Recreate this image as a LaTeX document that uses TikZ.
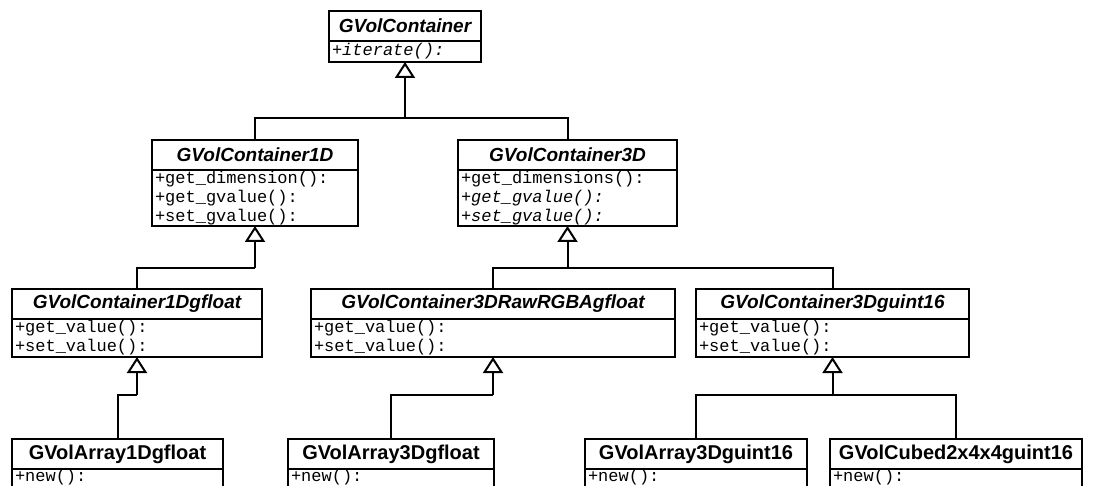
\documentclass[tikz,border=0pt]{standalone}
\usepackage{fontspec}
\setsansfont{Liberation Sans}
\setmonofont{Liberation Mono}
\usetikzlibrary{arrows.meta,positioning}

\begin{document}
\begin{tikzpicture}[x=0.5pt, y=-0.5pt,
cls/.style={draw, line width=1pt, minimum width=#1, minimum height=15pt,
inner sep=0pt, outer sep=0pt, anchor=north,
font=\sffamily\bfseries\itshape\fontsize{9.5}{11}\selectfont},
leaf/.style={cls=#1, font=\sffamily\bfseries\fontsize{10}{12}\selectfont},
ops/.style={draw, line width=0.8pt, text width=#1-3pt, inner xsep=1.5pt, inner ysep=0pt,
outer sep=0pt, align=left, font=\ttfamily\fontsize{8.5}{9.4}\selectfont},
wire/.style={line width=1pt},
isa/.style={line width=1pt, -{Triangle[open, length=8pt, width=10pt]}}
]
\useasboundingbox (0,0) rectangle (1108,486);
\clip (0,0) rectangle (1108,486);

% root
\node[cls=76pt] (gvc) at (405,11) {GVolContainer};
\node[ops=76pt, minimum height=10.5pt, below=0pt of gvc] (gvc-ops) {\itshape +iterate():};

% 1D / 3D interfaces
\node[cls=103pt] (gvc1d) at (255,140) {GVolContainer1D};
\node[ops=103pt, minimum height=28pt, below=0pt of gvc1d] (gvc1d-ops)
{+get\_dimension():\\+get\_gvalue():\\+set\_gvalue():};

\node[cls=109.5pt] (gvc3d) at (567.5,140) {GVolContainer3D};
\node[ops=109.5pt, minimum height=28pt, below=0pt of gvc3d] (gvc3d-ops)
{+get\_dimensions():\\\itshape +get\_gvalue():\\\itshape +set\_gvalue():};

% typed containers
\node[cls=125pt] (gvc1dgf) at (137,289) {GVolContainer1Dgfloat};
\node[ops=125pt, minimum height=19pt, below=0pt of gvc1dgf] (gvc1dgf-ops)
{+get\_value():\\+set\_value():};

\node[cls=182pt] (gvc3draw) at (493,289) {GVolContainer3DRawRGBAgfloat};
\node[ops=182pt, minimum height=19pt, below=0pt of gvc3draw] (gvc3draw-ops)
{+get\_value():\\+set\_value():};

\node[cls=136.5pt] (gvc3dui) at (832.5,289) {GVolContainer3Dguint16};
\node[ops=136.5pt, minimum height=19pt, below=0pt of gvc3dui] (gvc3dui-ops)
{+get\_value():\\+set\_value():};

% concrete classes (cut off by the page edge)
\node[leaf=105.5pt] (gva1dgf) at (117.5,439) {GVolArray1Dgfloat};
\node[ops=105.5pt, text depth=8pt, below=0pt of gva1dgf] (gva1dgf-ops) {+new():};

\node[leaf=103pt] (gva3dgf) at (391,439) {GVolArray3Dgfloat};
\node[ops=103pt, text depth=8pt, below=0pt of gva3dgf] (gva3dgf-ops) {+new():};

\node[leaf=111pt] (gva3dui) at (696,439) {GVolArray3Dguint16};
\node[ops=111pt, text depth=8pt, below=0pt of gva3dui] (gva3dui-ops) {+new():};

\node[leaf=126pt] (gvcubed) at (956,439) {GVolCubed2x4x4guint16};
\node[ops=126pt, text depth=8pt, below=0pt of gvcubed] (gvcubed-ops) {+new():};

% generalisation
\coordinate (j0) at (gvc-ops.south |- 0,118);
\draw[isa] (j0) -- (gvc-ops.south);
\draw[wire] (gvc1d.north) |- (j0) -| (gvc3d.north);

\coordinate (j1) at (gvc1d-ops.south |- 0,268);
\draw[isa] (j1) -- (gvc1d-ops.south);
\draw[wire] (gvc1dgf.north) |- (j1);

\coordinate (j2) at (gvc3d-ops.south |- 0,268);
\draw[isa] (j2) -- (gvc3d-ops.south);
\draw[wire] (gvc3draw.north) |- (j2) -| (gvc3dui.north);

\coordinate (j3) at (gvc1dgf-ops.south |- 0,395);
\draw[isa] (j3) -- (gvc1dgf-ops.south);
\draw[wire] (gva1dgf.north) |- (j3);

\coordinate (j4) at (gvc3draw-ops.south |- 0,395);
\draw[isa] (j4) -- (gvc3draw-ops.south);
\draw[wire] (gva3dgf.north) |- (j4);

\coordinate (j5) at (gvc3dui-ops.south |- 0,395);
\draw[isa] (j5) -- (gvc3dui-ops.south);
\draw[wire] (gva3dui.north) |- (j5) -| (gvcubed.north);

\end{tikzpicture}
\end{document}
